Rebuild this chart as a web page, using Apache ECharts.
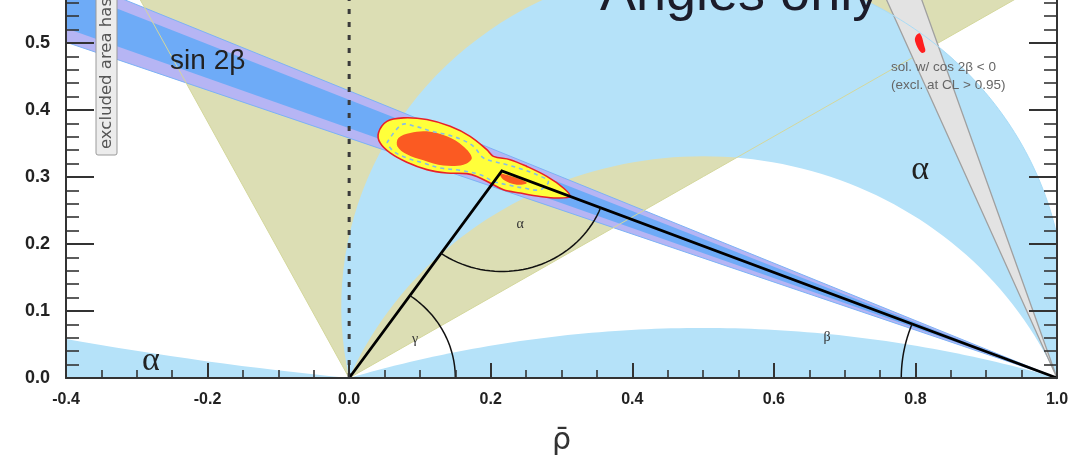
<!DOCTYPE html>
<html><head><meta charset="utf-8">
<script src="https://cdn.jsdelivr.net/npm/echarts@6/dist/echarts.min.js"></script>
<style>html,body{margin:0;padding:0;background:#fff;overflow:hidden;width:1073px;height:460px;position:relative}
#c{position:absolute;left:0;top:-24px;width:1073px;height:484px}</style>
</head><body><div id="c"></div>
<script>
// ---------- data ----------
const xTickLabels = ['-0.4', '-0.2', '0.0', '0.2', '0.4', '0.6', '0.8', '1.0'];
const yTickLabels = ['0.0', '0.1', '0.2', '0.3', '0.4', '0.5'];
// alpha constraint (degrees): main band, solution near 180, solution near 0
const alphaRangesDeg = [[78, 113]];
const alphaNearPiDeg = 163;
const alphaNearZeroDeg = 5.9;
// gamma constraint wedge from the origin (degrees)
const gammaRangeDeg = [31, 117.6];
// sin 2beta bands (beta in degrees, rays from (1,0))
const sin2bOuterDeg = [19.7, 23.2];
const sin2bInnerDeg = [20.45, 22.55];
// mirror solution with cos 2beta < 0 (degrees)
const cos2bNegDeg = [66.9, 71.3];
// unitarity triangle apex and angle-arc radii
const apex = [0.2157, 0.309];
const arcRadius = { gamma: 0.15, alpha: 0.15, beta: 0.22 };
// global fit contours [rho, eta]
const fitOuter = [[0.0414,0.3658],[0.0533,0.3831],[0.0767,0.3882],[0.1098,0.3857],[0.1427,0.3756],[0.1709,0.3607],[0.1945,0.3408],[0.2038,0.3308],[0.2274,0.3259],[0.2510,0.3158],[0.2793,0.3009],[0.3027,0.2836],[0.3122,0.2710],[0.2934,0.2686],[0.2698,0.2710],[0.2416,0.2761],[0.2180,0.2810],[0.1992,0.2910],[0.1804,0.3009],[0.1663,0.3050],[0.1380,0.3060],[0.1098,0.3110],[0.0815,0.3220],[0.0579,0.3359],[0.0438,0.3508]];
const fitCoreA = [[0.0696,0.3583],[0.0862,0.3658],[0.1098,0.3682],[0.1380,0.3607],[0.1615,0.3457],[0.1733,0.3284],[0.1615,0.3184],[0.1332,0.3170],[0.1050,0.3250],[0.0815,0.3340],[0.0682,0.3457]];
const fitCoreB = [[0.2133,0.3049],[0.2369,0.2985],[0.2510,0.2910],[0.2369,0.2885],[0.2180,0.2960]];
const fitDashed = [[0.0533,0.3508],[0.0744,0.3782],[0.0932,0.3757],[0.1168,0.3682],[0.1380,0.3632],[0.1592,0.3558],[0.1756,0.3457],[0.1897,0.3284],[0.2038,0.3233],[0.2228,0.3184],[0.2462,0.3109],[0.2652,0.3034],[0.2815,0.2934],[0.2698,0.2810],[0.2462,0.2836],[0.2228,0.2885],[0.2038,0.2934],[0.1851,0.3034],[0.1568,0.3099],[0.1285,0.3135],[0.1050,0.3209],[0.0815,0.3284],[0.0626,0.3383],[0.0533,0.3508]];
const mirrorBlob = [[0.8010,0.5112],[0.8066,0.5142],[0.8123,0.4963],[0.8137,0.4873],[0.8080,0.4858],[0.7996,0.5023]];
// text labels placed in data coordinates
const regionLabels = [
  { text: 'sin 2β', at: [-0.253, 0.472], size: 28, serif: false, align: 'left' },
  { text: 'α', at: [0.8066, 0.311], size: 34, serif: true, align: 'center' },
  { text: 'α', at: [-0.280, 0.026], size: 34, serif: true, align: 'center' }
];
const angleLabels = [
  { text: 'γ', at: [0.093, 0.057] },
  { text: 'α', at: [0.2415, 0.229] },
  { text: 'β', at: [0.675, 0.061] }
];
const mirrorNote = ['sol. w/ cos 2β < 0', '(excl. at CL > 0.95)'];
const mirrorNoteAt = [[0.7656, 0.4642], [0.7656, 0.4373]];

// ---------- style ----------
const COL = { alpha: '#b5e2f9', gamma: '#dcdeb4', band1: '#6eabf7', band2: '#b6b5f4',
  gray: '#e3e3e3', grayEdge: '#a0a0a0', yellow: '#ffff3a', red: '#e8202a', core: '#fb5a22' };
const SANS = '"Liberation Sans", Arial, Helvetica, sans-serif';
const SERIF = '"Liberation Serif", "DejaVu Serif", serif';
const D2R = Math.PI / 180;
const SHIFT = 24; // canvas is moved up by this many pixels

function alphaGeom(aDeg) {
  const a = aDeg * D2R, k = 0.5 / Math.tan(a), R = 0.5 / Math.sin(a);
  const p1 = Math.atan2(-k, 0.5), p0 = Math.PI - p1;
  return { k, R, p1, p0 };
}
function alphaArc(aDeg, f0, f1, n) {
  n = n || 90;
  const g = alphaGeom(aDeg), pts = [];
  for (let i = 0; i <= n; i++) {
    const f = f0 + (f1 - f0) * i / n, ph = g.p1 + (g.p0 - g.p1) * f;
    pts.push([0.5 + g.R * Math.cos(ph), g.k + g.R * Math.sin(ph)]);
  }
  return pts;
}
function betaWedge(r) {
  const L = 3;
  return [[1, 0], [1 - L * Math.cos(r[0] * D2R), L * Math.sin(r[0] * D2R)], [1 - L * Math.cos(r[1] * D2R), L * Math.sin(r[1] * D2R)]];
}
function vertexArc(c, r, t0, t1, n) {
  n = n || 40; const pts = [];
  for (let i = 0; i <= n; i++) { const t = (t0 + (t1 - t0) * i / n) * D2R; pts.push([c[0] + r * Math.cos(t), c[1] + r * Math.sin(t)]); }
  return pts;
}

function renderRegions(params, api) {
  const ch = [];
  const px = pts => pts.map(p => api.coord(p));
  const fillPoly = (pts, fill, extra) => ch.push({ type: 'polygon', shape: { points: px(pts) }, style: Object.assign({ fill }, extra || {}) });
  const strokeLine = (pts, stroke, lw) => ch.push({ type: 'polyline', shape: { points: px(pts) }, style: { fill: null, stroke, lineWidth: lw } });
  const g0 = gammaRangeDeg[0], g1 = gammaRangeDeg[1];
  const gw = [[0, 0]];
  for (let i = 0; i <= 30; i++) { const t = (g0 + (g1 - g0) * i / 30) * D2R; gw.push([3 * Math.cos(t), 3 * Math.sin(t)]); }
  fillPoly(gw, COL.gamma);
  alphaRangesDeg.forEach(r => fillPoly(alphaArc(r[0], 0, 1).concat(alphaArc(r[1], 1, 0)), COL.alpha));
  fillPoly(alphaArc(alphaNearPiDeg, 0, 1), COL.alpha);
  const gz = alphaGeom(alphaNearZeroDeg), spanDeg = (gz.p0 - gz.p1) / D2R;
  const wz = alphaArc(alphaNearZeroDeg, 1, 1 - 12 / spanDeg, 40);
  wz.push([wz[wz.length - 1][0], 0]);
  fillPoly(wz, COL.alpha);
  fillPoly(betaWedge(sin2bOuterDeg), COL.band2, { stroke: '#7cb2f5', lineWidth: 1 });
  fillPoly(betaWedge(sin2bInnerDeg), COL.band1);
  strokeLine([[0, 0], [3 * Math.cos(g0 * D2R), 3 * Math.sin(g0 * D2R)]], '#d4d79c', 1);
  strokeLine([[0, 0], [3 * Math.cos(g1 * D2R), 3 * Math.sin(g1 * D2R)]], '#d4d79c', 1);
  fillPoly(betaWedge(cos2bNegDeg), COL.gray, { stroke: COL.grayEdge, lineWidth: 1.3 });
  strokeLine(alphaArc(alphaRangesDeg[0][0], 0, 0.4), '#a9dcf7', 1);
  return { type: 'group', children: ch };
}

function renderOverlay(params, api) {
  const ch = [];
  const px = pts => pts.map(p => api.coord(p));
  ch.push({ type: 'polygon', shape: { points: px(fitOuter), smooth: 0.35 }, style: { fill: COL.yellow, stroke: COL.red, lineWidth: 1.6 } });
  ch.push({ type: 'polygon', shape: { points: px(fitCoreA), smooth: 0.35 }, style: { fill: COL.core } });
  ch.push({ type: 'polygon', shape: { points: px(fitCoreB), smooth: 0.35 }, style: { fill: COL.core } });
  ch.push({ type: 'polyline', shape: { points: px(fitDashed), smooth: 0.35 }, style: { fill: null, stroke: '#86bde6', lineWidth: 1.6, lineDash: [4, 4] } });
  ch.push({ type: 'polygon', shape: { points: px(mirrorBlob), smooth: 0.4 }, style: { fill: '#ff1e1e' } });
  ch.push({ type: 'polyline', shape: { points: px([[0, 0], [0, 0.6]]) }, style: { fill: null, stroke: '#3a3a3a', lineWidth: 3, lineDash: [5, 8] } });
  ch.push({ type: 'polyline', shape: { points: px([[0, 0], apex, [1, 0]]) }, style: { fill: null, stroke: '#000', lineWidth: 2.8, lineJoin: 'miter' } });
  const thA = Math.atan2(apex[1], apex[0]) / D2R;
  const thL = Math.atan2(-apex[1], -apex[0]) / D2R;
  const thR = Math.atan2(-apex[1], 1 - apex[0]) / D2R;
  const thB = 180 - Math.atan2(apex[1], 1 - apex[0]) / D2R;
  [vertexArc([0, 0], arcRadius.gamma, 0, thA), vertexArc(apex, arcRadius.alpha, thL, thR), vertexArc([1, 0], arcRadius.beta, 180, thB)]
    .forEach(p => ch.push({ type: 'polyline', shape: { points: px(p) }, style: { fill: null, stroke: '#111', lineWidth: 1.5 } }));
  regionLabels.forEach(l => { const c = api.coord(l.at); ch.push({ type: 'text', x: c[0], y: c[1], style: { text: l.text, fontSize: l.size, fontFamily: l.serif ? SERIF : SANS, fill: '#222', align: l.align, verticalAlign: 'middle' } }); });
  angleLabels.forEach(l => { const c = api.coord(l.at); ch.push({ type: 'text', x: c[0], y: c[1], style: { text: l.text, fontSize: 14, fontFamily: SERIF, fill: '#333', align: 'center', verticalAlign: 'middle' } }); });
  mirrorNote.forEach((t, i) => { const c = api.coord(mirrorNoteAt[i]); ch.push({ type: 'text', x: c[0], y: c[1], style: { text: t, fontSize: 13.5, fontFamily: SANS, fill: '#666', align: 'left', verticalAlign: 'middle' } }); });
  return { type: 'group', children: ch };
}

const axisLineStyle = { show: true, onZero: false, lineStyle: { color: '#333', width: 2 } };
const yTicks = { show: true, inside: true, length: 28, lineStyle: { color: '#333', width: 2 } };
const yMinor = { show: true, splitNumber: 5, length: 13, lineStyle: { color: '#333', width: 1.6 } };
const option = {
  animation: false,
  backgroundColor: '#fff',
  grid: { left: 66, right: 16, top: 0, bottom: 82, containLabel: false, outerBoundsMode: 'none' },
  xAxis: [{
    type: 'value', min: -0.4, max: 1.0, interval: 0.2, position: 'bottom', z: 10,
    axisLine: axisLineStyle, splitLine: { show: false },
    axisTick: { show: true, inside: true, length: 15, lineStyle: { color: '#333', width: 2 } },
    minorTick: { show: true, splitNumber: 4, length: 8, lineStyle: { color: '#333', width: 1.6 } },
    axisLabel: { formatter: v => xTickLabels[Math.round((v + 0.4) / 0.2)] || '', fontWeight: 'bold', fontSize: 16, color: '#222', margin: 14, fontFamily: SANS },
    name: 'ρ̄', nameLocation: 'middle', nameGap: 48,
    nameTextStyle: { fontSize: 30, color: '#333', fontFamily: '"DejaVu Sans", sans-serif' }
  }],
  yAxis: [{
    type: 'value', min: 0, max: 0.6, interval: 0.1, position: 'left', z: 10,
    axisLine: axisLineStyle, splitLine: { show: false }, axisTick: yTicks, minorTick: yMinor,
    axisLabel: { formatter: v => { const i = Math.round(v / 0.1); return (i < yTickLabels.length && Math.abs(v - i * 0.1) < 1e-6) ? yTickLabels[i] : ''; }, fontWeight: 'bold', fontSize: 18, color: '#222', margin: 16, fontFamily: SANS }
  }, {
    type: 'value', min: 0, max: 0.6, interval: 0.1, position: 'right', z: 10,
    axisLine: axisLineStyle, splitLine: { show: false }, axisTick: yTicks, minorTick: yMinor,
    axisLabel: { show: false }
  }],
  series: [
    { type: 'custom', coordinateSystem: 'cartesian2d', xAxisIndex: 0, yAxisIndex: 0, clip: true, silent: true, data: [[0, 0]], renderItem: renderRegions, z: 1 },
    { type: 'custom', coordinateSystem: 'cartesian2d', xAxisIndex: 0, yAxisIndex: 0, clip: false, silent: true, data: [[0, 0]], renderItem: renderOverlay, z: 3 }
  ],
  graphic: [
    { type: 'text', x: 600, y: SHIFT - 32, z: 20, style: { text: 'Angles only', fontSize: 54, fontFamily: SANS, fill: '#1c1c2a', align: 'left', verticalAlign: 'top' } },
    { type: 'rect', shape: { x: 96, y: SHIFT - 6, width: 21, height: 161, r: 2 }, z: 20, style: { fill: '#ececec', stroke: '#9a9a9a', lineWidth: 1 } },
    { type: 'text', x: 107, y: SHIFT + 149, rotation: Math.PI / 2, z: 21, style: { text: 'excluded area has CL > 0.95', fontSize: 16.5, fontFamily: '"DejaVu Sans", sans-serif', fill: '#555', align: 'left', verticalAlign: 'middle' } },
    { type: 'text', x: 2, y: SHIFT + 150, z: 20, style: { text: 'η̄', fontSize: 30, fontFamily: '"DejaVu Sans", sans-serif', fill: '#333', align: 'right', verticalAlign: 'middle' } }
  ]
};
const chart = echarts.init(document.getElementById('c'), null, { renderer: 'canvas' });
chart.setOption(option);
</script></body></html>
